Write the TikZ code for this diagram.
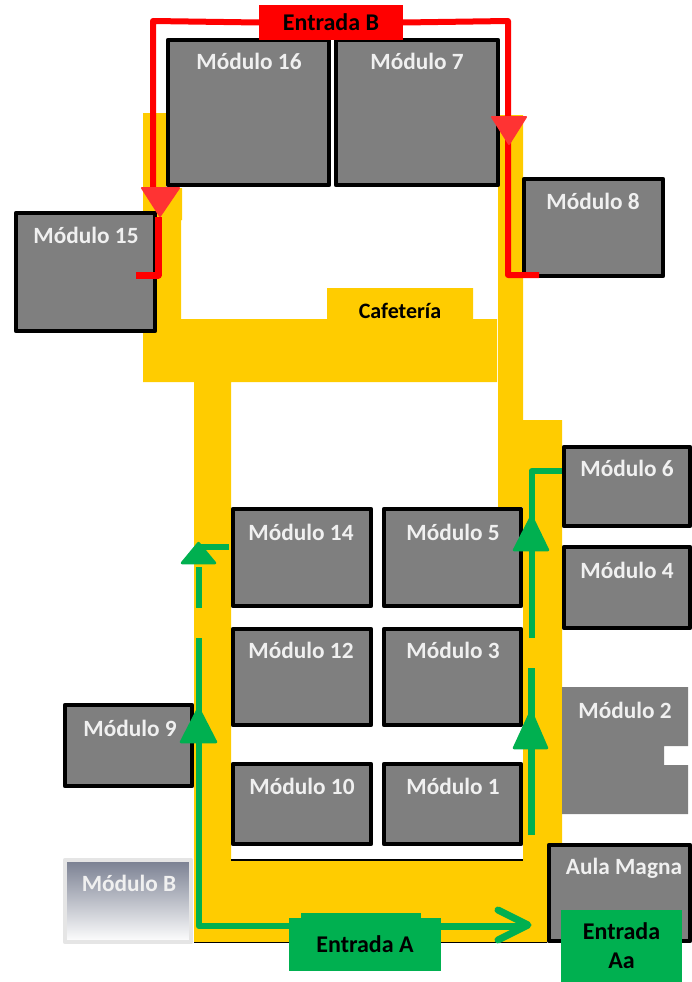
\documentclass[tikz,border=0pt]{standalone}
\usepackage{fontspec}
\setmainfont{Carlito}
\usetikzlibrary{
		calc,
		positioning
	}
\definecolor{pasillo}{HTML}{FFCC00}
\definecolor{grismod}{HTML}{7F7F7F}
\definecolor{verdeent}{HTML}{00B050}
\definecolor{rojopunta}{HTML}{FF3333}
\definecolor{grisb}{HTML}{797F91}
\tikzset{
		modulo/.style={draw=black, fill=grismod, line width=3.8pt, line join=round, inner sep=0pt, outer sep=0pt},
		txtmod/.style={text=white!94!black, font=\fontsize{23.3}{27}\selectfont\bfseries, inner sep=0pt},
		entrada/.style={text=black, font=\fontsize{24}{29}\selectfont\bfseries, inner sep=0pt, align=center},
		rutaroja/.style={draw=red, line width=6pt, line join=round},
		rutaverde/.style={draw=verdeent, line width=6.5pt, line join=round},
		puntaroja/.style={fill=rojopunta, draw=rojopunta, line width=2pt, line join=round},
		puntaverde/.style={fill=verdeent, draw=verdeent, line width=2.5pt, line join=round}
	}
\begin{document}
\begin{tikzpicture}[x=1pt, y=-1pt]
    \useasboundingbox (0,0) rectangle (691,982);

    % the corridors
    \fill[pasillo] (143,113) -- (166,113) -- (166,188) -- (182,188) -- (182,220) -- (181,220)
        -- (181,319) -- (327,319) -- (327,288) -- (473,288) -- (473,319) -- (497,319)
        -- (497,382) -- (231,382) -- (231,860) -- (523,860) -- (523,507) -- (498,507)
        -- (498,115) -- (523,115) -- (523,420) -- (562,420) -- (562,850) -- (547,850)
        -- (547,942) -- (194,942) -- (194,382) -- (143,382) -- cycle;
    \draw[black, line width=1.2pt] (231,860) -- (523,860);
    \draw[black, line width=1.2pt] (194,942.5) -- (547,942.5);

    % the modules
    \node[modulo, minimum width=161.5pt, minimum height=145.5pt] (m16) at (248.5,112.5) {};
    \node[modulo, minimum width=162.5pt, minimum height=145.5pt] (m7) at (417,112.5) {};
    \node[modulo, minimum width=139.5pt, minimum height=118.5pt] (m15) at (85.5,272) {};
    \node[modulo, minimum width=139.5pt, minimum height=97.5pt] (m8) at (593.5,227.5) {};
    \node[modulo, minimum width=126.5pt, minimum height=79.5pt] (m6) at (627,486.5) {};
    \node[modulo, minimum width=126.5pt, minimum height=81.5pt] (m4) at (627,587.5) {};
    \node[modulo, minimum width=138.5pt, minimum height=97.5pt] (m14) at (302,557.5) {};
    \node[modulo, minimum width=137.5pt, minimum height=97.5pt] (m5) at (452.5,557.5) {};
    \node[modulo, minimum width=138.5pt, minimum height=96.5pt] (m12) at (302,677) {};
    \node[modulo, minimum width=137.5pt, minimum height=96.5pt] (m3) at (452.5,677) {};
    \node[modulo, minimum width=138.5pt, minimum height=80.5pt] (m10) at (302,804) {};
    \node[modulo, minimum width=137.5pt, minimum height=80.5pt] (m1) at (452.5,804) {};
    \node[modulo, minimum width=127.5pt, minimum height=81.5pt] (m9) at (128.5,745.5) {};
    \node[modulo, minimum width=141.5pt, minimum height=96.5pt] (aula) at (619.5,893) {};
    \node[modulo, draw=black!10, top color=grisb, middle color=grisb!40!white, bottom color=white,
        minimum width=126.5pt, minimum height=82.5pt] (mb) at (128,901) {};
    % this one has a notch and no border
    \fill[grismod] (562,687) -- (688,687) -- (688,746) -- (664,746) -- (664,765) -- (688,765)
        -- (688,814) -- (562,814) -- cycle;

    % the texts
    \node[txtmod] (t16) at (249,61) {Módulo 16};
    \node[txtmod] (t7) at (417,61) {Módulo 7};
    \node[txtmod] (t15) at (86,235) {Módulo 15};
    \node[txtmod] (t8) at (593,201) {Módulo 8};
    \node[txtmod] (t6) at (627,468) {Módulo 6};
    \node[txtmod] (t4) at (627,570) {Módulo 4};
    \node[txtmod] (t14) at (301,532) {Módulo 14};
    \node[txtmod] (t5) at (453,532) {Módulo 5};
    \node[txtmod] (t12) at (301,650) {Módulo 12};
    \node[txtmod] (t3) at (453,650) {Módulo 3};
    \node[txtmod] (t2) at (625,710) {Módulo 2};
    \node[txtmod] (t9) at (130,728) {Módulo 9};
    \node[txtmod] (t10) at (302,786) {Módulo 10};
    \node[txtmod] (t1) at (453,786) {Módulo 1};
    \node[txtmod] (tb) at (129,883) {Módulo B};
    \node[txtmod] (taula) at (624,868) {Aula Magna};
    \node[entrada, font=\fontsize{22}{26}\selectfont\bfseries] (caf) at (400,311) {Cafetería};

    % the entrances
    \fill[verdeent] (301,913) rectangle (421,920);
    \node[entrada, fill=red, minimum width=144pt, minimum height=35pt] (eb) at (331,22.5) {Entrada B};
    \node[entrada, fill=verdeent, minimum width=152pt, minimum height=53pt] (ea) at (365,944.5) {Entrada A};
    \node[entrada, fill=verdeent, minimum width=121pt, minimum height=72pt] (eaa) at (621.5,946) {Entrada\\Aa};

    % the points of the routes
    \coordinate (r1) at (153,21);
    \coordinate (r2) at (153,188);
    \coordinate (r3) at (158,217);
    \coordinate (r4) at (158,275);
    \coordinate (r5) at (136,275);
    \coordinate (s1) at (508,21);
    \coordinate (s2) at (508,275);
    \coordinate (s3) at (539,275);
    \coordinate (v1) at (199,638);
    \coordinate (v2) at (199,926);
    \coordinate (v3) at (199,567);
    \coordinate (v4) at (199,608);
    \coordinate (v5) at (199,547);
    \coordinate (v6) at (229,547);
    \coordinate (w1) at (531.5,835);
    \coordinate (w2) at (531.5,668);
    \coordinate (w3) at (531.5,638);
    \coordinate (w4) at (531.5,471);
    \coordinate (w5) at (562,471);

    % draw the red routes
    \draw[rutaroja] (eb.west) -- (r1) -- (r2);
    \draw[rutaroja, line width=7pt] (r3) -- (r4) -- (r5);
    \draw[rutaroja] (eb.east) -- (s1) -- (s2) -- (s3);
    \filldraw[puntaroja] (142,188) -- (179,188) -- (160,216) -- cycle;
    \filldraw[puntaroja] (492,117) -- (526,117) -- (509,144) -- cycle;

    % draw the green routes
    \draw[rutaverde] (v1) -- (v2) -- (v2 -| ea.west);
    \draw[rutaverde, line width=7pt] (v2 -| ea.east) -- (526,926);
    \draw[rutaverde, line width=7pt, line cap=round] (498,910) -- (528,925) -- (498,940);
    \draw[rutaverde, line width=5.5pt] (v3) -- (v4);
    \draw[rutaverde, line width=5.5pt] (v5) -- (v6);
    \draw[rutaverde] (w1) -- (w2);
    \draw[rutaverde, line width=6pt] (w3) -- (w4) -- (w5);
    \filldraw[puntaverde] (181,742) -- (216,742) -- (198.5,708) -- cycle;
    \filldraw[puntaverde] (182,563) -- (215,563) -- (198.5,543) -- cycle;
    \filldraw[puntaverde] (514,748) -- (547,748) -- (531,711) -- cycle;
    \filldraw[puntaverde] (514,550) -- (548,550) -- (531.5,516) -- cycle;
\end{tikzpicture}
\end{document}
